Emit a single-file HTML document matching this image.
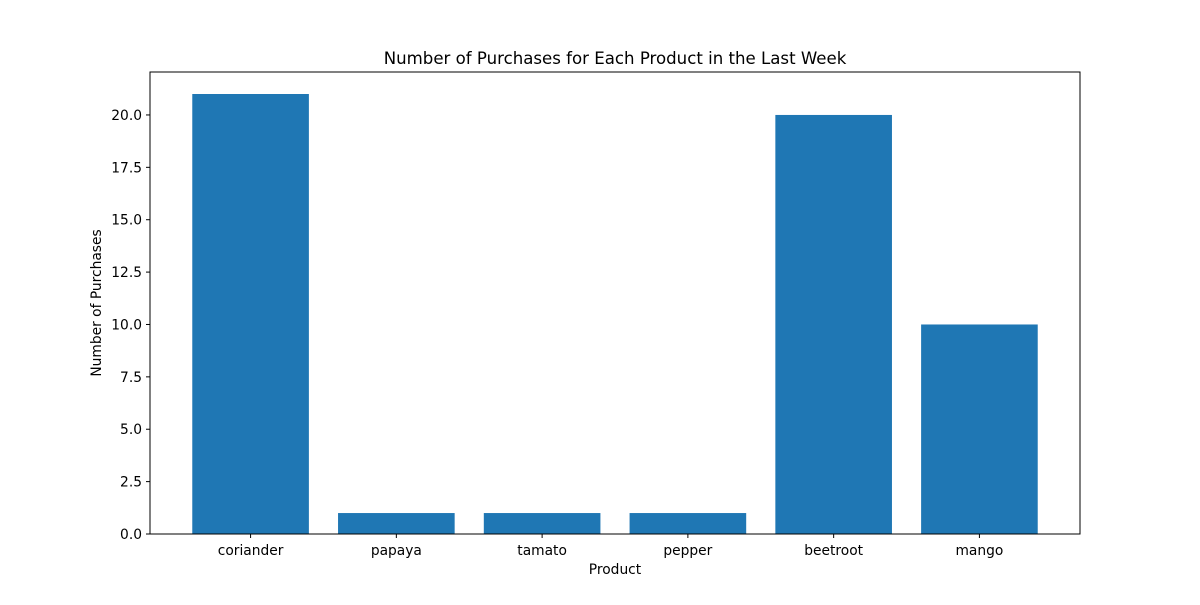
<!DOCTYPE html>
<html><head><meta charset="utf-8"><style>
body{margin:0;background:#fff;}
svg text{font-family:"DejaVu Sans","Liberation Sans",sans-serif;fill:#000;}
</style></head><body>
<svg id="chart" width="1200" height="600" xmlns="http://www.w3.org/2000/svg">
<rect width="1200" height="600" fill="#fff"/>
<text x="615" y="64" font-size="16.6" text-anchor="middle">Number of Purchases for Each Product in the Last Week</text>
<g id="bars"></g>
<g id="xticks"></g>
<g id="yticks"></g>
<rect x="150" y="72" width="930" height="462" fill="none" stroke="#000" stroke-width="1"/>
<text x="615" y="574" font-size="13.8" text-anchor="middle">Product</text>
<text transform="translate(101,303) rotate(-90)" font-size="13.8" text-anchor="middle">Number of Purchases</text>
</svg>
<script>
const categories=["coriander","papaya","tamato","pepper","beetroot","mango"];
const values=[21,1,1,1,20,10];
const yTickValues=[0,2.5,5,7.5,10,12.5,15,17.5,20];
const yTickLabels=["0.0","2.5","5.0","7.5","10.0","12.5","15.0","17.5","20.0"];

const L=150,R=1080,T=72,B=534;
const ns="http://www.w3.org/2000/svg";
const ymax=Math.max(...values)*1.05;
const n=categories.length;
const xmin=-0.4-0.05*(n-1+0.8), xmax=n-1+0.4+0.05*(n-1+0.8);
const xs=v=>L+(v-xmin)/(xmax-xmin)*(R-L);
const ys=v=>B-v/ymax*(B-T);
function mk(tag,attrs,parent){const e=document.createElementNS(ns,tag);for(const k in attrs)e.setAttribute(k,attrs[k]);parent.appendChild(e);return e;}
const gb=document.getElementById('bars'),gx=document.getElementById('xticks'),gy=document.getElementById('yticks');
categories.forEach((c,i)=>{
  const x0=xs(i-0.4),x1=xs(i+0.4);
  const r=mk('rect',{x:x0,y:ys(values[i]),width:x1-x0,height:B-ys(values[i]),fill:'#1f77b4'},gb);
  
  
  mk('line',{x1:xs(i),x2:xs(i),y1:B,y2:B+4,stroke:'#000'},gx);
  const t=mk('text',{x:xs(i),y:B+21,'font-size':13.8,'text-anchor':'middle'},gx);
  t.textContent=c;
  
  
});
yTickValues.forEach((v,i)=>{
  mk('line',{x1:L-4,x2:L,y1:ys(v),y2:ys(v),stroke:'#000'},gy);
  const t=mk('text',{x:L-8,y:ys(v)+5,'font-size':13.8,'text-anchor':'end'},gy);
  t.textContent=yTickLabels[i];
  
  
});
</script>
</body></html>
